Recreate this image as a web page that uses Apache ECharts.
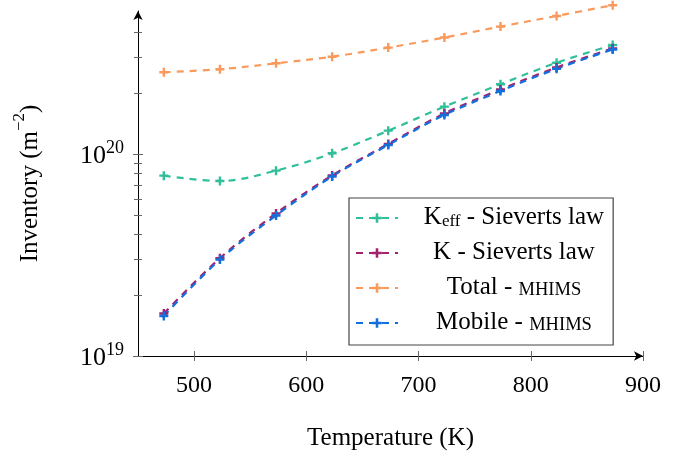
<!DOCTYPE html>
<html><head><meta charset="utf-8">
<script src="https://cdn.jsdelivr.net/npm/echarts@6/dist/echarts.min.js"></script>
<style>html,body{margin:0;padding:0;background:#fff}#c{width:687px;height:462px}</style>
</head><body><div id="c"></div>
<script>
const temperatures = [473, 523, 573, 623, 673, 723, 773, 823, 873];
const keffSieverts = [7.81e19, 7.35e19, 8.27e19, 1.008e20, 1.304e20, 1.715e20, 2.213e20, 2.83e20, 3.46e20];
const kSieverts    = [1.623e19, 3.05e19, 5.08e19, 7.83e19, 1.121e20, 1.586e20, 2.085e20, 2.68e20, 3.33e20];
const totalMhims   = [2.537e20, 2.626e20, 2.81e20, 3.03e20, 3.36e20, 3.77e20, 4.27e20, 4.82e20, 5.45e20];
const mobileMhims  = [1.578e19, 3.004e19, 4.96e19, 7.74e19, 1.108e20, 1.56e20, 2.05e20, 2.64e20, 3.29e20];
const seriesNames = ['Keff - Sieverts law', 'K - Sieverts law', 'Total - MHIMS', 'Mobile - MHIMS'];
const seriesColors = ['#30bf9a', '#a2226e', '#f99a5c', '#136fdc'];
const xTicks = [500, 600, 700, 800, 900];
const yMajorTicks = [1e19, 1e20];
const yMinorTicks = [2e19, 3e19, 4e19, 5e19, 6e19, 7e19, 8e19, 9e19, 2e20, 3e20, 4e20];

const FONT = 'Liberation Serif';
const X_MIN = 450, X_MAX = 900, Y_MIN = 1e19, Y_MAX = 5.1e20;
const plus = 'path://M-1.2,-4.5h2.4v3.3h3.3v2.4h-3.3v3.3h-2.4v-3.3h-3.3v-2.4h3.3z';

function pairs(vals) { return temperatures.map((t, i) => [t, vals[i]]); }
const allData = [keffSieverts, kSieverts, totalMhims, mobileMhims];

const tickColor = '#666';
function yAxisBase(extra) {
  return Object.assign({
    type: 'log', logBase: 10, min: Y_MIN, max: Y_MAX, position: 'left', offset: 0,
    splitLine: { show: false }, axisLine: { show: false, onZero: false },
    axisLabel: { show: false }, minorTick: { show: false }
  }, extra);
}
function xAxisBase(extra) {
  return Object.assign({
    type: 'value', min: X_MIN, max: X_MAX, position: 'bottom', offset: 0,
    splitLine: { show: false }, axisLine: { show: false, onZero: false },
    axisLabel: { show: false }
  }, extra);
}

const option = {
  animation: false,
  backgroundColor: '#fff',
  textStyle: { fontFamily: FONT },
  grid: { left: 138, right: 44, top: 11, bottom: 106 },
  xAxis: [
    xAxisBase({
      axisLine: { show: true, onZero: false, lineStyle: { color: '#000', width: 1 }, symbol: ['none', 'arrow'], symbolSize: [7, 9] },
      axisTick: { show: true, length: 5, customValues: xTicks, lineStyle: { color: tickColor } },
      axisLabel: { show: true, customValues: xTicks, margin: 18, fontFamily: FONT, fontSize: 24, color: '#000' },
      name: 'Temperature (K)', nameLocation: 'middle', nameGap: 70,
      nameTextStyle: { fontFamily: FONT, fontSize: 25, color: '#000' }
    }),
    xAxisBase({ axisTick: { show: true, inside: true, length: 5, customValues: xTicks, lineStyle: { color: tickColor } } })
  ],
  yAxis: [
    yAxisBase({
      axisLine: { show: true, onZero: false, lineStyle: { color: '#000', width: 1 }, symbol: ['none', 'arrow'], symbolSize: [7, 9] },
      axisTick: { show: true, length: 5, customValues: yMajorTicks, lineStyle: { color: tickColor } },
      axisLabel: {
        show: true, customValues: yMajorTicks, margin: 14, color: '#000',
        formatter: function (v) { return '{b|10}{s|' + Math.round(Math.log10(v)) + '}'; },
        rich: {
          b: { fontFamily: FONT, fontSize: 26, color: '#000', lineHeight: 30, verticalAlign: 'bottom' },
          s: { fontFamily: FONT, fontSize: 18, color: '#000', lineHeight: 18, verticalAlign: 'top' }
        }
      },
      name: '{n|Inventory (m}{s|−2}{n|)}', nameLocation: 'middle', nameGap: 95, nameRotate: 90,
      nameTextStyle: {
        rich: {
          n: { fontFamily: FONT, fontSize: 25, color: '#000', lineHeight: 32, verticalAlign: 'bottom' },
          s: { fontFamily: FONT, fontSize: 17, color: '#000', lineHeight: 18, verticalAlign: 'top' }
        }
      }
    }),
    yAxisBase({ axisTick: { show: true, inside: true, length: 5, customValues: yMajorTicks, lineStyle: { color: tickColor } } }),
    yAxisBase({ axisTick: { show: true, length: 4, customValues: yMinorTicks, lineStyle: { color: tickColor } } }),
    yAxisBase({ axisTick: { show: true, inside: true, length: 4, customValues: yMinorTicks, lineStyle: { color: tickColor } } })
  ],
  legend: {
    left: 349, top: 198, orient: 'vertical',
    data: seriesNames,
    backgroundColor: '#fff', borderColor: '#444', borderWidth: 1.2, borderRadius: 0,
    padding: [7, 9, 10, 6], itemGap: 10, itemWidth: 42, itemHeight: 12, itemTextGap: 5,
    formatter: function (name) {
      if (name === seriesNames[0]) return '{t|K}{sub|eff}{t| - Sieverts law}';
      if (name === seriesNames[1]) return '{t|K - Sieverts law}';
      if (name === seriesNames[2]) return '{t|Total - }{sc|MHIMS}';
      return '{t|Mobile - }{sc|MHIMS}';
    },
    textStyle: {
      width: 222, color: '#000',
      rich: {
        t: { fontFamily: FONT, fontSize: 25, color: '#000', lineHeight: 24, align: 'center', verticalAlign: 'bottom' },
        sub: { fontFamily: FONT, fontSize: 17, color: '#000', lineHeight: 9, align: 'center', verticalAlign: 'bottom' },
        sc: { fontFamily: FONT, fontSize: 18.5, color: '#000', lineHeight: 22, align: 'center', verticalAlign: 'bottom' }
      }
    }
  },
  series: seriesNames.map((n, i) => ({
    name: n, type: 'line', data: pairs(allData[i]),
    xAxisIndex: 0, yAxisIndex: 0,
    smooth: 0.35, clip: false,
    symbol: plus, symbolSize: 9, showSymbol: true,
    color: seriesColors[i],
    itemStyle: { color: seriesColors[i] },
    lineStyle: { color: seriesColors[i], width: 2.2, type: [7, 6] },
    emphasis: { disabled: true }
  }))
};
const chart = echarts.init(document.getElementById('c'), null, { renderer: 'canvas' });
chart.setOption(option);
</script></body></html>
